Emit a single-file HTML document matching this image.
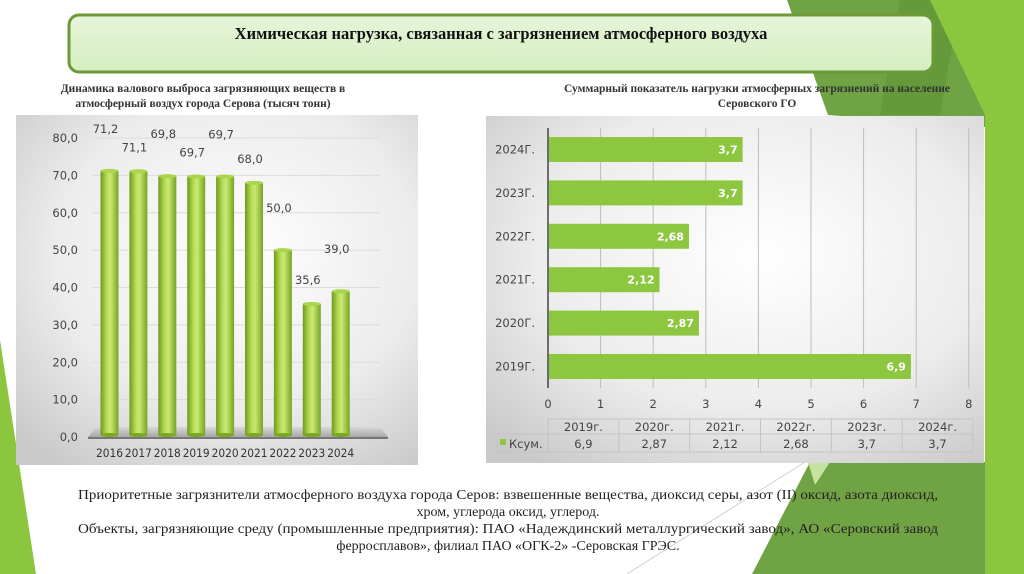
<!DOCTYPE html>
<html><head><meta charset="utf-8">
<style>
html,body{margin:0;padding:0;background:#fff;}
svg{display:block;}
.sans{font-family:"DejaVu Sans","Liberation Sans",sans-serif;}
.serif{font-family:"Liberation Serif","Noto Serif CJK SC",serif;}
</style></head>
<body>
<svg id="root" width="1024" height="574" viewBox="0 0 1024 574" xmlns="http://www.w3.org/2000/svg">
<defs>
<radialGradient id="panelBg" cx="0.55" cy="0.4" r="0.75">
<stop offset="0" stop-color="#ffffff"/><stop offset="0.6" stop-color="#ececec"/><stop offset="1" stop-color="#c9c9c9"/>
</radialGradient>
<linearGradient id="cyl" x1="0" x2="1" y1="0" y2="0">
<stop offset="0" stop-color="#6e9a1c"/><stop offset="0.35" stop-color="#b5dc55"/><stop offset="0.55" stop-color="#c9ea73"/><stop offset="1" stop-color="#76a423"/>
</linearGradient>
<linearGradient id="floor" x1="0" x2="0" y1="0" y2="1">
<stop offset="0" stop-color="#d8d8d8"/><stop offset="1" stop-color="#a8a8a8"/>
</linearGradient>
<linearGradient id="titleBg" x1="0" x2="0" y1="0" y2="1">
<stop offset="0" stop-color="#e6f5da"/><stop offset="1" stop-color="#d4eec0"/>
</linearGradient>
</defs>

<polygon points="787,0 1024,0 1024,130 828,115" fill="#6fa344"/>
<polygon points="900,0 960,0 940,115 880,115" fill="#5f9536" opacity="0.6"/>
<polygon points="930,0 1024,0 1024,574 985,574 985,115" fill="#8cc63f"/>
<polygon points="810,462 985,462 985,574 752,574" fill="#6fa344"/>
<polygon points="808,462 830,462 815,485" fill="#c5e2a0"/>
<line x1="627" y1="574" x2="805" y2="462" stroke="#cfcfcf" stroke-width="1"/>
<polygon points="0,340 36,574 0,574" fill="#8cc63f"/>

<rect x="69" y="15" width="864" height="57" rx="10" fill="url(#titleBg)" stroke="#6b9a36" stroke-width="3"/>
<text class="serif" x="501" y="39" text-anchor="middle" font-size="16.5" font-weight="bold" fill="#111">Химическая нагрузка, связанная с загрязнением атмосферного воздуха</text>

<text class="serif" font-size="11.5" font-weight="bold" fill="#333" text-anchor="middle"><tspan x="203" y="92">Динамика валового выброса загрязняющих веществ в</tspan><tspan x="203" y="107">атмосферный воздух города Серова (тысяч тонн)</tspan></text>
<rect x="16" y="115" width="402" height="350" fill="url(#panelBg)"/>
<g id="leftChart"></g>

<text class="serif" font-size="11.5" font-weight="bold" fill="#333" text-anchor="middle"><tspan x="757" y="92">Суммарный показатель нагрузки атмосферных загрязнений на население</tspan><tspan x="757" y="107">Серовского ГО</tspan></text>
<rect x="486" y="116" width="498" height="347" fill="url(#panelBg)"/>
<g id="rightChart"></g>

<text class="serif" font-size="14" fill="#222" text-anchor="middle" x="508" y="499" textLength="860" lengthAdjust="spacingAndGlyphs">Приоритетные загрязнители атмосферного воздуха города Серов: взвешенные вещества, диоксид серы, азот (II) оксид, азота диоксид,</text>
<text class="serif" font-size="14" fill="#222" text-anchor="middle" x="508" y="516">хром, углерода оксид, углерод.</text>
<text class="serif" font-size="14" fill="#222" text-anchor="middle" x="508" y="533" textLength="860" lengthAdjust="spacingAndGlyphs">Объекты, загрязняющие среду (промышленные предприятия): ПАО «Надеждинский металлургический завод», АО «Серовский завод</text>
<text class="serif" font-size="14" fill="#222" text-anchor="middle" x="508" y="550">ферросплавов», филиал ПАО «ОГК-2» -Серовская ГРЭС.</text>
</svg>

<script>
const NS = "http://www.w3.org/2000/svg";
const leftYears = ["2016","2017","2018","2019","2020","2021","2022","2023","2024"];
const leftValues = [71.2, 71.1, 69.8, 69.7, 69.7, 68.0, 50.0, 35.6, 39.0];
const leftLabels = ["71,2","71,1","69,8","69,7","69,7","68,0","50,0","35,6","39,0"];
const leftTicks = [0,10,20,30,40,50,60,70,80];
const leftTickLabels = ["0,0","10,0","20,0","30,0","40,0","50,0","60,0","70,0","80,0"];
const rightCats = ["2019г.","2020г.","2021г.","2022г.","2023г.","2024г."];
const rightAxisCats = ["2019Г.","2020Г.","2021Г.","2022Г.","2023Г.","2024Г."];
const rightValues = [6.9, 2.87, 2.12, 2.68, 3.7, 3.7];
const rightLabels = ["6,9","2,87","2,12","2,68","3,7","3,7"];
const rightTicks = [0,1,2,3,4,5,6,7,8];

function mk(tag, attrs, parent, txt){
  const e = document.createElementNS(NS, tag);
  for (const k in attrs) e.setAttribute(k, attrs[k]);
  if (txt !== undefined) e.textContent = txt;
  parent.appendChild(e);
  return e;
}

(function(){
  const g = document.getElementById('leftChart');
  const y0 = 437, yTop = 138, vMax = 80;
  const yS = v => y0 - (v / vMax) * (y0 - yTop);
  const x0 = 109.5, step = 28.9, bw = 18;
  const xS = i => x0 + i * step;
  leftTicks.forEach((t, i) => {
    const y = yS(t);
    if (t > 0) {
      const gl = mk('line', {x1: 92, x2: 380, y1: y, y2: y, stroke: '#dcdcdc', 'stroke-width': 1}, g);
      
      
    }
    const tl = mk('text', {x: 78, y: y + 4, 'text-anchor': 'end', 'font-size': 11.5, fill: '#444', class: 'sans'}, g, leftTickLabels[i]);
    
    
  });
  const fl = mk('polygon', {points: `96,427 380,427 388,437 88,437`, fill: 'url(#floor)'}, g);
  
  
  const ax = mk('line', {x1: 88, x2: 388, y1: 438, y2: 438, stroke: '#555', 'stroke-width': 1.5}, g);
  
  
  leftValues.forEach((v, i) => {
    const cx = xS(i), top = yS(v), bot = 435;
    const b = mk('rect', {x: cx - bw / 2, y: top, width: bw, height: bot - top, fill: 'url(#cyl)'}, g);
    
    
    const c = mk('ellipse', {cx: cx, cy: top, rx: bw / 2, ry: 2, fill: '#a9d64a'}, g);
    
    
    mk('ellipse', {cx: cx, cy: bot, rx: bw / 2, ry: 2, fill: '#7aa722'}, g);
    const dy = (i % 2 === 0) ? 38 : 20;
    const lb = mk('text', {x: cx - 4, y: top - dy, 'text-anchor': 'middle', 'font-size': 11.5, fill: '#444', class: 'sans'}, g, leftLabels[i]);
    
    
    const yl = mk('text', {x: cx, y: 457, 'text-anchor': 'middle', 'font-size': 11.5, fill: '#333', class: 'sans', textLength: 27, lengthAdjust: 'spacingAndGlyphs'}, g, leftYears[i]);
    
    
  });
})();

(function(){
  const g = document.getElementById('rightChart');
  const xZero = 548, unit = 52.6;
  const xS = v => xZero + v * unit;
  const yBottom = 366.5, step = 43.4, bh = 25;
  const yS = i => yBottom - i * step;
  rightTicks.forEach(t => {
    const x = xS(t);
    const gl = mk('line', {x1: x, x2: x, y1: 128, y2: 388, stroke: t === 0 ? '#444' : '#bdbdbd', 'stroke-width': t === 0 ? 1.5 : 1}, g);
    
    
    const tl = mk('text', {x: x, y: 408, 'text-anchor': 'middle', 'font-size': 11.5, fill: '#444', class: 'sans'}, g, String(t));
    
    
  });
  rightValues.forEach((v, i) => {
    const cy = yS(i);
    const b = mk('rect', {x: xZero + 1, y: cy - bh / 2, width: xS(v) - xZero - 1, height: bh, fill: '#8dc63f'}, g);
    
    
    const lb = mk('text', {x: xS(v) - 5, y: cy + 4, 'text-anchor': 'end', 'font-size': 11, 'font-weight': 'bold', fill: '#fff', class: 'sans'}, g, rightLabels[i]);
    
    
    const cl = mk('text', {x: 535, y: cy + 4, 'text-anchor': 'end', 'font-size': 11.5, fill: '#444', class: 'sans'}, g, rightAxisCats[i]);
    
    
  });
  const tx0 = 548, tx1 = 973, cw = (tx1 - tx0) / rightCats.length;
  const tb = mk('g', {}, g);
  
  
  mk('rect', {x: tx0, y: 419, width: tx1 - tx0, height: 15, fill: 'none', stroke: '#c4c4c4'}, tb);
  mk('rect', {x: 497, y: 434, width: tx1 - 497, height: 18, fill: 'none', stroke: '#c4c4c4'}, tb);
  mk('line', {x1: tx0, x2: tx0, y1: 419, y2: 452, stroke: '#c4c4c4'}, tb);
  rightCats.forEach((c, i) => {
    const cx = tx0 + cw * (i + 0.5);
    if (i > 0) mk('line', {x1: tx0 + cw * i, x2: tx0 + cw * i, y1: 419, y2: 452, stroke: '#c4c4c4'}, tb);
    const h = mk('text', {x: cx, y: 431, 'text-anchor': 'middle', 'font-size': 11.5, fill: '#444', class: 'sans'}, tb, c);
    
    
    const d = mk('text', {x: cx, y: 448, 'text-anchor': 'middle', 'font-size': 11.5, fill: '#444', class: 'sans'}, tb, rightLabels[i]);
    
    
  });
  const key = mk('rect', {x: 500, y: 439, width: 6, height: 6, fill: '#8dc63f'}, tb);
  
  
  const kt = mk('text', {x: 509, y: 448, 'font-size': 11.5, fill: '#444', class: 'sans'}, tb, 'Ксум.');
  
  
})();
</script>
</body></html>
